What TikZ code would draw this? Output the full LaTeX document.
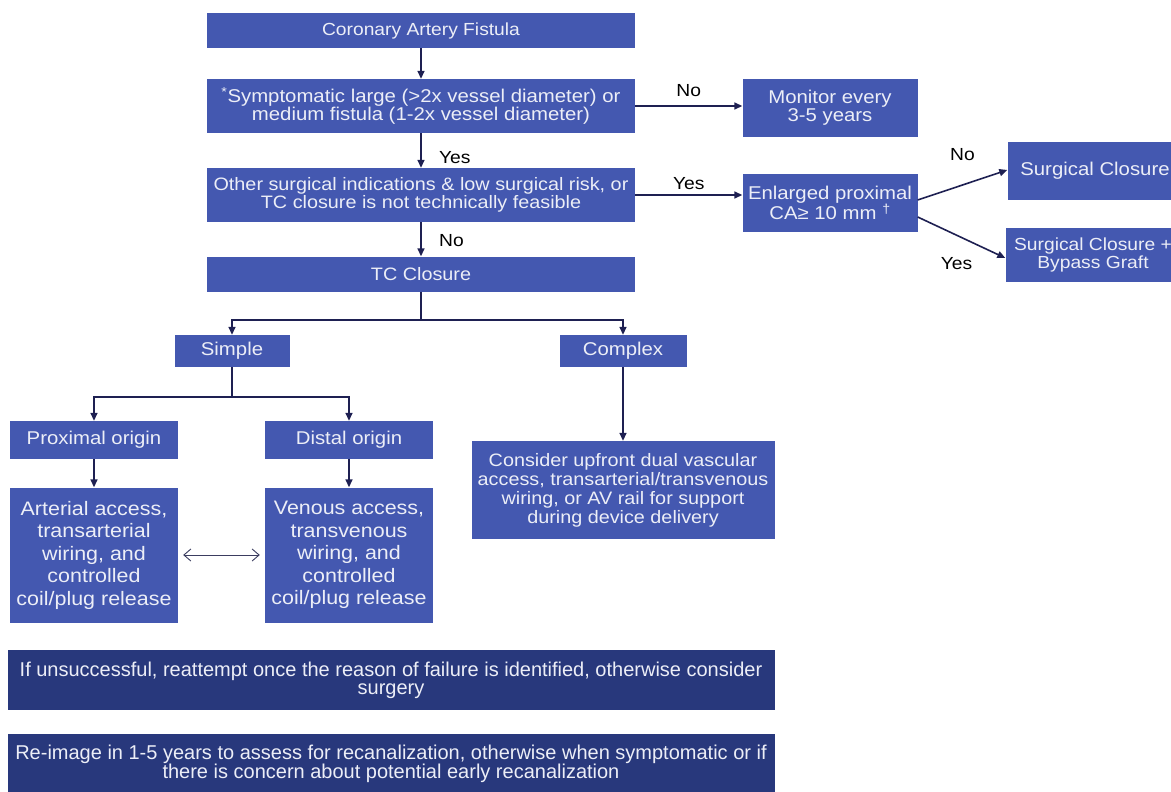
\documentclass[tikz,border=0pt]{standalone}
\usepackage{fontspec}
\setmainfont{Liberation Sans}
\newfontfamily\widefont{Liberation Sans}[FakeStretch=1.1]
\usetikzlibrary{arrows.meta,positioning,calc}
\definecolor{boxblue}{RGB}{68,88,176}
\definecolor{darknavy}{RGB}{40,56,124}
\definecolor{linenavy}{RGB}{30,32,82}

\begin{document}
\begin{tikzpicture}[x=1pt,y=-1pt,
    box/.style={fill=boxblue,text=white!90!boxblue,align=center,inner sep=2pt,
                font=\widefont\fontsize{18.5}{18}\selectfont},
    mainbox/.style={box,minimum width=428,font=\widefont\fontsize{18}{18}\selectfont},
    tallbox/.style={box,font=\widefont\fontsize{19.5}{22.5}\selectfont},
    notebox/.style={box,fill=darknavy,font=\fontsize{20}{18}\selectfont},
    lbl/.style={font=\widefont\fontsize{17.5}{18}\selectfont,text=black},
    flow/.style={draw=linenavy,line width=1.6pt,-{Triangle[length=8pt,width=7pt]}},
    link/.style={draw=linenavy,line width=1.6pt}]
    \useasboundingbox (0,0) rectangle (1171,792);
    \clip (0,0) rectangle (1171,792);

    % main column
    \node[mainbox,minimum height=35,font=\widefont\fontsize{17.5}{18}\selectfont] (cfa) at (421,30.5) {Coronary Artery Fistula};
    \node[mainbox,minimum height=54,font=\widefont\fontsize{18.5}{18}\selectfont] (sympt) at (421,106)
        {\textsuperscript{*}Symptomatic large (>2x vessel diameter) or\\medium fistula (1-2x vessel diameter)};
    \node[mainbox,minimum height=54] (othersurg) at (421,195)
        {Other surgical indications \& low surgical risk, or\\TC closure is not technically feasible};
    \node[mainbox,minimum height=35] (tc) at (421,274) {TC Closure};

    % right side
    \node[box,minimum width=175,minimum height=58] (monitor) at (830,108) {Monitor every\\3-5 years};
    \node[box,minimum width=175,minimum height=58] (enlarged) at (830,203)
        {Enlarged proximal\\CA≥ 10 mm \textsuperscript{†}};
    \node[box,minimum width=175,minimum height=58] (surgclose) at (1095,171) {Surgical Closure};
    \node[box,minimum width=175,minimum height=54,font=\widefont\fontsize{17.5}{18}\selectfont] (bypass) at (1093,255)
        {Surgical Closure +\\Bypass Graft};

    % TC branches
    \node[box,minimum width=115,minimum height=32] (simple) at (232,351) {Simple};
    \node[box,minimum width=127,minimum height=32] (complex) at (623,351) {Complex};
    \node[box,minimum width=168,minimum height=38] (proximal) at (94,440) {Proximal origin};
    \node[box,minimum width=168,minimum height=38] (distal) at (349,440) {Distal origin};
    \node[tallbox,minimum width=168,minimum height=135] (arterial) at (94,555)
        {Arterial access,\\transarterial\\wiring, and\\controlled\\coil/plug release};
    \node[tallbox,minimum width=168,minimum height=135] (venous) at (349,555)
        {Venous access,\\transvenous\\wiring, and\\controlled\\coil/plug release};
    \node[box,minimum width=303,minimum height=98,font=\widefont\fontsize{18}{19}\selectfont] (upfront) at (623,490)
        {Consider upfront dual vascular\\access, transarterial/transvenous\\wiring, or AV rail for support\\during device delivery};

    % notes
    \node[notebox,minimum width=767,minimum height=60] (retry) at (391,680)
        {If unsuccessful, reattempt once the reason of failure is identified, otherwise consider\\surgery};
    \node[notebox,minimum width=767,minimum height=60] (reimage) at (391,764)
        {Re-image in 1-5 years to assess for recanalization, otherwise when symptomatic or if\\there is concern about potential early recanalization};

    \draw[flow] (cfa) -- (sympt);
    \draw[flow] (sympt) -- node[lbl,right=14pt,pos=0.7] {Yes} (othersurg);
    \draw[flow] (othersurg) -- node[lbl,right=14pt,pos=0.55] {No} (tc);
    \draw[flow] (sympt.east) -- node[lbl,above=5pt] {No} (sympt.east -| monitor.west);
    \draw[flow] (othersurg.east) -- node[lbl,above=1pt] {Yes} (othersurg.east -| enlarged.west);
    \draw[flow] ([yshift=3]enlarged.east) -- node[lbl,above=20pt] {No} ([yshift=1]surgclose.west);
    \draw[flow] ([yshift=-14]enlarged.east) -- node[lbl,below=16pt,xshift=-5pt] {Yes} ([yshift=-3]bypass.west);

    \coordinate (tcsplit) at ($(tc.south)+(0,28)$);
    \draw[link] (tc.south) -- (tcsplit);
    \draw[flow] (tcsplit) -| (simple.north);
    \draw[flow] (tcsplit) -| (complex.north);
    \coordinate (simplesplit) at ($(simple.south)+(0,30)$);
    \draw[link] (simple.south) -- (simplesplit);
    \draw[flow] (simplesplit) -| (proximal.north);
    \draw[flow] (simplesplit) -| (distal.north);
    \draw[flow] (proximal) -- (arterial);
    \draw[flow] (distal) -- (venous);
    \draw[flow] (complex) -- (upfront);
    \draw[draw=linenavy!70!gray,line width=0.9pt,{Straight Barb[length=7pt,width=12pt]}-{Straight Barb[length=7pt,width=12pt]}]
        ([xshift=5]arterial.east) -- ([xshift=-5]venous.west);
\end{tikzpicture}
\end{document}
